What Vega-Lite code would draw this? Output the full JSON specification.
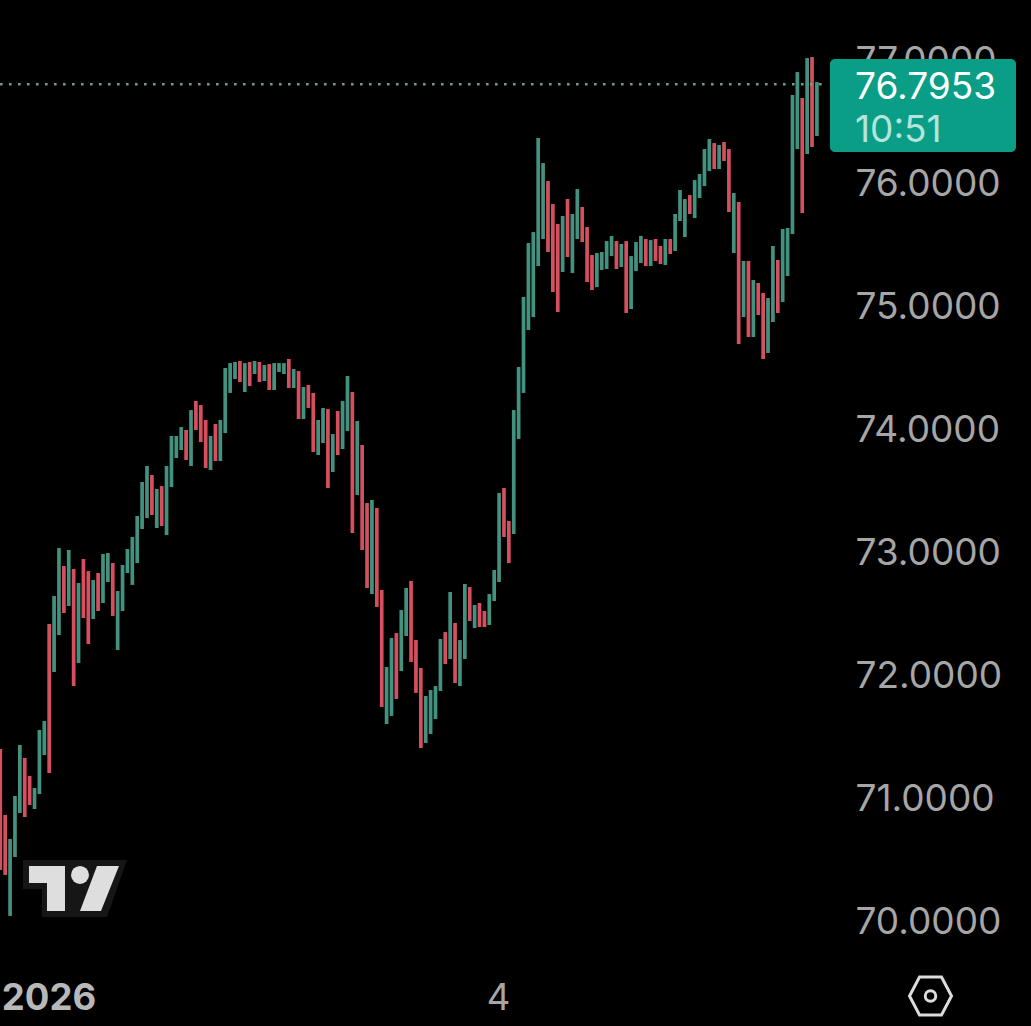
{"$schema":"https://vega.github.io/schema/vega-lite/v6.json","width":1031,"height":1026,"autosize":{"type":"none"},"padding":0,"background":"#000000","config":{"view":{"stroke":null},"font":"Inter"},
"datasets":{"bars":[
{"i":0,"high":71.390,"low":70.407,"dir":"down"},{"i":1,"high":70.854,"low":70.366,"dir":"down"},{"i":2,"high":70.659,"low":70.033,"dir":"up"},{"i":3,"high":71.008,"low":70.512,"dir":"up"},{"i":4,"high":71.423,"low":70.870,"dir":"up"},{"i":5,"high":71.317,"low":70.837,"dir":"down"},{"i":6,"high":71.171,"low":70.935,"dir":"down"},{"i":7,"high":71.073,"low":70.902,"dir":"up"},{"i":8,"high":71.545,"low":71.024,"dir":"up"},{"i":9,"high":71.618,"low":71.341,"dir":"up"},
{"i":10,"high":72.407,"low":71.195,"dir":"down"},{"i":11,"high":72.634,"low":72.016,"dir":"up"},{"i":12,"high":73.024,"low":72.317,"dir":"up"},{"i":13,"high":72.878,"low":72.496,"dir":"down"},{"i":14,"high":73.008,"low":72.553,"dir":"up"},{"i":15,"high":72.854,"low":71.902,"dir":"down"},{"i":16,"high":72.740,"low":72.089,"dir":"up"},{"i":17,"high":72.935,"low":72.455,"dir":"down"},{"i":18,"high":72.837,"low":72.244,"dir":"down"},{"i":19,"high":72.764,"low":72.447,"dir":"up"},
{"i":20,"high":72.821,"low":72.512,"dir":"down"},{"i":21,"high":72.976,"low":72.577,"dir":"up"},{"i":22,"high":72.984,"low":72.748,"dir":"up"},{"i":23,"high":72.902,"low":72.472,"dir":"down"},{"i":24,"high":72.675,"low":72.195,"dir":"up"},{"i":25,"high":72.886,"low":72.512,"dir":"up"},{"i":26,"high":73.016,"low":72.821,"dir":"up"},{"i":27,"high":73.114,"low":72.724,"dir":"up"},{"i":28,"high":73.285,"low":72.902,"dir":"up"},{"i":29,"high":73.561,"low":73.179,"dir":"up"},
{"i":30,"high":73.691,"low":73.268,"dir":"up"},{"i":31,"high":73.618,"low":73.293,"dir":"down"},{"i":32,"high":73.504,"low":73.187,"dir":"up"},{"i":33,"high":73.528,"low":73.203,"dir":"down"},{"i":34,"high":73.691,"low":73.130,"dir":"up"},{"i":35,"high":73.935,"low":73.520,"dir":"up"},{"i":36,"high":73.935,"low":73.756,"dir":"up"},{"i":37,"high":74.008,"low":73.821,"dir":"up"},{"i":38,"high":73.984,"low":73.740,"dir":"down"},{"i":39,"high":74.146,"low":73.691,"dir":"up"},
{"i":40,"high":74.220,"low":73.984,"dir":"down"},{"i":41,"high":74.187,"low":73.886,"dir":"down"},{"i":42,"high":74.065,"low":73.675,"dir":"down"},{"i":43,"high":73.935,"low":73.659,"dir":"up"},{"i":44,"high":74.033,"low":73.732,"dir":"down"},{"i":45,"high":74.065,"low":73.732,"dir":"up"},{"i":46,"high":74.488,"low":73.959,"dir":"up"},{"i":47,"high":74.528,"low":74.285,"dir":"up"},{"i":48,"high":74.537,"low":74.398,"dir":"up"},{"i":49,"high":74.545,"low":74.374,"dir":"down"},
{"i":50,"high":74.528,"low":74.293,"dir":"up"},{"i":51,"high":74.537,"low":74.341,"dir":"down"},{"i":52,"high":74.545,"low":74.439,"dir":"up"},{"i":53,"high":74.537,"low":74.374,"dir":"down"},{"i":54,"high":74.512,"low":74.382,"dir":"up"},{"i":55,"high":74.520,"low":74.309,"dir":"down"},{"i":56,"high":74.528,"low":74.309,"dir":"up"},{"i":57,"high":74.528,"low":74.455,"dir":"up"},{"i":58,"high":74.528,"low":74.439,"dir":"up"},{"i":59,"high":74.561,"low":74.325,"dir":"down"},
{"i":60,"high":74.480,"low":74.325,"dir":"up"},{"i":61,"high":74.463,"low":74.073,"dir":"down"},{"i":62,"high":74.333,"low":74.073,"dir":"up"},{"i":63,"high":74.350,"low":74.163,"dir":"down"},{"i":64,"high":74.285,"low":73.805,"dir":"down"},{"i":65,"high":74.065,"low":73.780,"dir":"up"},{"i":66,"high":74.163,"low":73.878,"dir":"up"},{"i":67,"high":74.154,"low":73.512,"dir":"down"},{"i":68,"high":73.951,"low":73.642,"dir":"up"},{"i":69,"high":74.138,"low":73.780,"dir":"down"},
{"i":70,"high":74.220,"low":73.829,"dir":"up"},{"i":71,"high":74.423,"low":73.976,"dir":"up"},{"i":72,"high":74.293,"low":73.146,"dir":"down"},{"i":73,"high":74.057,"low":73.455,"dir":"up"},{"i":74,"high":73.862,"low":73.008,"dir":"down"},{"i":75,"high":73.390,"low":72.699,"dir":"down"},{"i":76,"high":73.415,"low":72.650,"dir":"up"},{"i":77,"high":73.350,"low":72.545,"dir":"down"},{"i":78,"high":72.683,"low":71.732,"dir":"down"},{"i":79,"high":72.057,"low":71.593,"dir":"up"},
{"i":80,"high":72.293,"low":71.659,"dir":"up"},{"i":81,"high":72.333,"low":71.797,"dir":"down"},{"i":82,"high":72.520,"low":72.024,"dir":"up"},{"i":83,"high":72.699,"low":72.309,"dir":"up"},{"i":84,"high":72.756,"low":72.098,"dir":"down"},{"i":85,"high":72.276,"low":71.846,"dir":"down"},{"i":86,"high":72.049,"low":71.398,"dir":"down"},{"i":87,"high":71.821,"low":71.439,"dir":"up"},{"i":88,"high":71.870,"low":71.512,"dir":"up"},{"i":89,"high":71.902,"low":71.634,"dir":"up"},
{"i":90,"high":72.285,"low":71.862,"dir":"up"},{"i":91,"high":72.341,"low":72.081,"dir":"down"},{"i":92,"high":72.667,"low":72.122,"dir":"up"},{"i":93,"high":72.415,"low":71.927,"dir":"down"},{"i":94,"high":72.276,"low":71.902,"dir":"up"},{"i":95,"high":72.732,"low":72.122,"dir":"up"},{"i":96,"high":72.707,"low":72.431,"dir":"down"},{"i":97,"high":72.561,"low":72.374,"dir":"up"},{"i":98,"high":72.577,"low":72.382,"dir":"down"},{"i":99,"high":72.512,"low":72.382,"dir":"down"},
{"i":100,"high":72.650,"low":72.398,"dir":"up"},{"i":101,"high":72.846,"low":72.593,"dir":"up"},{"i":102,"high":73.472,"low":72.748,"dir":"up"},{"i":103,"high":73.512,"low":73.114,"dir":"down"},{"i":104,"high":73.244,"low":72.902,"dir":"down"},{"i":105,"high":74.146,"low":73.138,"dir":"up"},{"i":106,"high":74.496,"low":73.911,"dir":"up"},{"i":107,"high":75.065,"low":74.285,"dir":"up"},{"i":108,"high":75.504,"low":74.797,"dir":"up"},{"i":109,"high":75.593,"low":74.902,"dir":"up"},
{"i":110,"high":76.358,"low":75.317,"dir":"up"},{"i":111,"high":76.154,"low":75.537,"dir":"up"},{"i":112,"high":76.008,"low":75.431,"dir":"down"},{"i":113,"high":75.821,"low":75.106,"dir":"down"},{"i":114,"high":75.659,"low":74.943,"dir":"down"},{"i":115,"high":75.724,"low":75.268,"dir":"up"},{"i":116,"high":75.862,"low":75.390,"dir":"down"},{"i":117,"high":75.740,"low":75.260,"dir":"up"},{"i":118,"high":75.943,"low":75.537,"dir":"up"},{"i":119,"high":75.797,"low":75.512,"dir":"down"},
{"i":120,"high":75.634,"low":75.187,"dir":"down"},{"i":121,"high":75.407,"low":75.122,"dir":"down"},{"i":122,"high":75.423,"low":75.146,"dir":"up"},{"i":123,"high":75.431,"low":75.285,"dir":"up"},{"i":124,"high":75.520,"low":75.293,"dir":"up"},{"i":125,"high":75.561,"low":75.398,"dir":"up"},{"i":126,"high":75.520,"low":75.293,"dir":"down"},{"i":127,"high":75.496,"low":75.309,"dir":"up"},{"i":128,"high":75.520,"low":74.935,"dir":"down"},{"i":129,"high":75.398,"low":74.967,"dir":"up"},
{"i":130,"high":75.512,"low":75.276,"dir":"up"},{"i":131,"high":75.561,"low":75.341,"dir":"up"},{"i":132,"high":75.537,"low":75.317,"dir":"down"},{"i":133,"high":75.528,"low":75.317,"dir":"up"},{"i":134,"high":75.537,"low":75.358,"dir":"down"},{"i":135,"high":75.480,"low":75.333,"dir":"down"},{"i":136,"high":75.537,"low":75.325,"dir":"up"},{"i":137,"high":75.537,"low":75.415,"dir":"down"},{"i":138,"high":75.740,"low":75.439,"dir":"up"},{"i":139,"high":75.935,"low":75.683,"dir":"up"},
{"i":140,"high":75.862,"low":75.553,"dir":"up"},{"i":141,"high":75.894,"low":75.740,"dir":"down"},{"i":142,"high":76.016,"low":75.707,"dir":"up"},{"i":143,"high":76.065,"low":75.870,"dir":"up"},{"i":144,"high":76.268,"low":75.967,"dir":"up"},{"i":145,"high":76.350,"low":76.089,"dir":"up"},{"i":146,"high":76.317,"low":76.106,"dir":"down"},{"i":147,"high":76.301,"low":76.106,"dir":"up"},{"i":148,"high":76.325,"low":76.171,"dir":"down"},{"i":149,"high":76.268,"low":75.756,"dir":"down"},
{"i":150,"high":75.911,"low":75.423,"dir":"up"},{"i":151,"high":75.837,"low":74.683,"dir":"down"},{"i":152,"high":75.358,"low":74.902,"dir":"up"},{"i":153,"high":75.358,"low":74.740,"dir":"down"},{"i":154,"high":75.203,"low":74.740,"dir":"up"},{"i":155,"high":75.179,"low":74.919,"dir":"down"},{"i":156,"high":75.098,"low":74.561,"dir":"down"},{"i":157,"high":75.057,"low":74.610,"dir":"up"},{"i":158,"high":75.480,"low":74.862,"dir":"up"},{"i":159,"high":75.366,"low":74.935,"dir":"down"},
{"i":160,"high":75.618,"low":75.024,"dir":"up"},{"i":161,"high":75.626,"low":75.236,"dir":"up"},{"i":162,"high":76.707,"low":75.577,"dir":"up"},{"i":163,"high":76.894,"low":76.268,"dir":"up"},{"i":164,"high":76.683,"low":75.748,"dir":"down"},{"i":165,"high":77.008,"low":76.228,"dir":"up"},{"i":166,"high":77.016,"low":76.285,"dir":"down"},{"i":167,"high":76.813,"low":76.374,"dir":"up"}
]},
"layer":[
{"data":{"name":"bars"},"mark":{"type":"rule","strokeWidth":3.7},"encoding":{
"x":{"field":"i","type":"quantitative","scale":{"domain":[-0.06,210.78],"nice":false,"zero":false},"title":null,"axis":{"orient":"bottom","offset":-28,"title":null,"values":[9.86,101.78],"labelExpr":"datum.value<50?'2026':'4'","grid":false,"domain":false,"ticks":false,"labelPadding":0,"labelBaseline":"middle","labelAlign":"center","labelFlush":false,"labelOverlap":false,"labelFont":"Inter","labelFontSize":36.5,"labelColor":{"condition":{"test":"datum.value<50","value":"#b8b8b8"},"value":"#a6a6a6"},"labelFontWeight":{"condition":{"test":"datum.value<50","value":"bold"},"value":"normal"}}},
"y":{"field":"low","type":"quantitative","scale":{"domain":[69.138,77.48],"nice":false,"zero":false},"title":null,"axis":{"orient":"right","offset":-176,"title":null,"values":[70,71,72,73,74,75,76,77],"format":".4f","grid":false,"domain":false,"ticks":false,"labelPadding":0,"labelOffset":2.5,"labelAlign":"left","labelBaseline":"middle","labelFlush":false,"labelOverlap":false,"labelFont":"Inter","labelFontSize":37,"labelColor":"#a6a6a6"}},
"y2":{"field":"high"},
"color":{"field":"dir","type":"nominal","legend":null,"scale":{"domain":["up","down"],"range":["#43917f","#d64f5e"]}}}},
{"data":{"values":[{"start":-0.06,"end":168.65,"price":76.7953}]},"mark":{"type":"rule","strokeWidth":2.6,"strokeDash":[2.6,6.4],"color":"#6b9c90"},"encoding":{"x":{"field":"start","type":"quantitative","title":null},"x2":{"field":"end"},"y":{"field":"price","type":"quantitative","title":null}}},
{"data":{"values":[{"x0":169.67,"x1":207.71,"top":77.0,"bottom":76.244}]},"mark":{"type":"rect","color":"#0a9e87","cornerRadius":5},"encoding":{"x":{"field":"x0","type":"quantitative","title":null},"x2":{"field":"x1"},"y":{"field":"top","type":"quantitative","title":null},"y2":{"field":"bottom"}}},
{"data":{"values":[{"x":174.8,"price":76.764,"label":"76.7953"}]},"mark":{"type":"text","align":"left","baseline":"middle","font":"Inter","fontSize":37,"color":"#ffffff"},"encoding":{"x":{"field":"x","type":"quantitative","title":null},"y":{"field":"price","type":"quantitative","title":null},"text":{"field":"label"}}},
{"data":{"values":[{"x":174.8,"price":76.417,"label":"10:51"}]},"mark":{"type":"text","align":"left","baseline":"middle","font":"Inter","fontSize":37,"color":"#b4e4da"},"encoding":{"x":{"field":"x","type":"quantitative","title":null},"y":{"field":"price","type":"quantitative","title":null},"text":{"field":"label"}}},
{"data":{"values":[{"x":15.07,"price":70.26}]},"mark":{"type":"point","filled":true,"opacity":1,"size":40000,"color":"#161616","shape":"M-0.51 -0.28L0.53 -0.28L0.33 0.29L-0.32 0.29L-0.32 0.01L-0.51 0.01Z"},"encoding":{"x":{"field":"x","type":"quantitative","title":null},"y":{"field":"price","type":"quantitative","title":null}}},
{"data":{"values":[{"x":15.07,"price":70.26}]},"mark":{"type":"point","filled":true,"opacity":1,"size":40000,"color":"#dedede","shape":"M-0.45 -0.22L-0.09 -0.22L-0.09 0.23L-0.27 0.23L-0.27 -0.05L-0.45 -0.05ZM0.23 -0.22L0.45 -0.22L0.27 0.23L0.06 0.23Z"},"encoding":{"x":{"field":"x","type":"quantitative","title":null},"y":{"field":"price","type":"quantitative","title":null}}},
{"data":{"values":[{"x":16.3,"price":70.366}]},"mark":{"type":"point","shape":"circle","filled":true,"opacity":1,"size":324,"color":"#dedede"},"encoding":{"x":{"field":"x","type":"quantitative","title":null},"y":{"field":"price","type":"quantitative","title":null}}},
{"data":{"values":[{"x":190.23,"price":69.382}]},"mark":{"type":"point","filled":false,"opacity":1,"size":40000,"color":"#dcdcdc","strokeWidth":3,"shape":"M-0.21 0L-0.11 -0.19L0.11 -0.19L0.21 0L0.11 0.19L-0.11 0.19Z"},"encoding":{"x":{"field":"x","type":"quantitative","title":null},"y":{"field":"price","type":"quantitative","title":null}}},
{"data":{"values":[{"x":190.23,"price":69.382}]},"mark":{"type":"point","shape":"circle","filled":false,"opacity":1,"size":110,"color":"#dcdcdc","strokeWidth":3},"encoding":{"x":{"field":"x","type":"quantitative","title":null},"y":{"field":"price","type":"quantitative","title":null}}}
]}
